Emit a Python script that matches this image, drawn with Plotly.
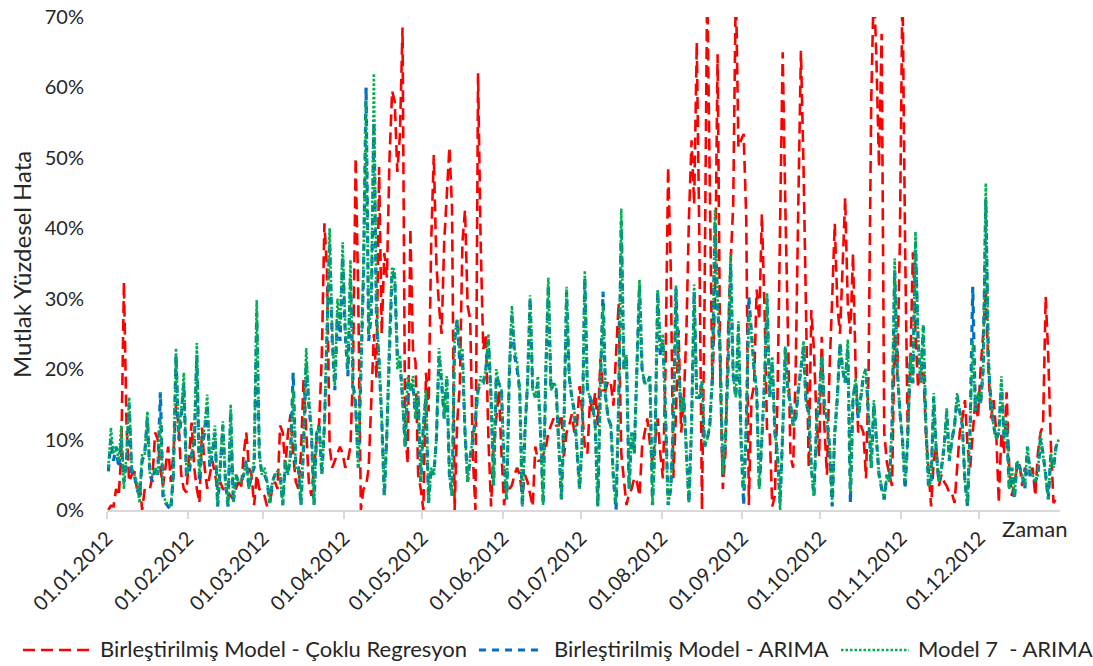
import pandas as pd
import plotly.graph_objects as go

# Daily absolute percentage errors (%), 2012-01-01 .. 2012-12-31, rows of 7 days
red_cr = [
    0, 0.6, 0.5, 3, 2, 8, 32.4,
    12, 4, 5, 5.5, 3, 4, 0,
    3, 3, 3, 5, 11, 10, 6,
    3.4, 6, 9, 4, 8, 15, 12,
    5, 3, 2.5, 8, 12.4, 6, 3,
    1, 11.7, 6, 3, 5, 7, 5,
    3, 4, 3, 3, 2.5, 2, 1.5,
    3, 4, 3, 8, 11, 6, 5,
    0.7, 5, 3, 2.5, 2, 0.5, 1,
    3, 4, 3, 12, 11, 6, 11,
    13.6, 8, 4, 3, 8, 18.7, 11,
    4, 2, 6, 10, 12.4, 22, 40.7,
    34, 9, 6, 7, 8, 9, 8,
    6, 7, 9, 20, 50, 30, 0,
    3, 3.4, 6, 16.4, 25, 18.7, 48.7,
    25, 36.5, 33, 50, 59.5, 58, 48,
    53.3, 68.5, 11, 6.6, 40, 22.8, 21,
    5, 3, 0, 19.5, 14, 38, 50.4,
    35, 29, 25, 38, 45, 51.5, 43,
    0, 12.6, 17.6, 38, 42.6, 29, 27,
    7.6, 0, 62, 38, 22.8, 25, 10,
    0.5, 9, 13, 17, 8, 0.7, 4,
    3, 3.5, 5, 6, 5, 2, 5,
    4, 2, 0.5, 9, 7, 7, 8,
    8.7, 11, 12, 13, 12, 12, 13.6,
    7.6, 11, 12, 13.6, 11, 12, 17.6,
    14, 9, 8, 15.6, 14, 16.7, 12,
    21.5, 17, 17, 18.4, 18, 14.8, 22,
    29.4, 8, 4, 0.7, 2.3, 3, 4.6,
    4, 2, 9, 11, 13, 9.4, 6.6,
    10, 13, 8, 4.5, 20, 48.7, 34.5,
    4.5, 13.7, 25.6, 11, 15.6, 25, 41.5,
    52.5, 43.4, 66.4, 38, 0, 30, 75,
    41.5, 17.6, 30, 64.7, 20, 3, 8,
    25, 35, 43.4, 75, 51.5, 52.5, 53.4,
    41.5, 0.7, 15.8, 17.6, 31.3, 27, 42,
    29, 11, 11, 0.5, 2, 15.8, 38,
    65, 43.4, 25, 7.6, 6, 20, 43.4,
    65.2, 48.7, 25, 6, 28.4, 22.8, 12.6,
    7.6, 24.6, 12, 5, 20, 30, 40.7,
    29, 25, 34.5, 44.3, 29, 25, 36.4,
    20, 11, 12, 11, 4.5, 20, 58,
    75, 64, 48.7, 67.6, 11, 6.8, 5,
    3.4, 25, 19, 38, 75, 38, 11,
    20, 36.6, 25, 17.4, 19, 20, 11,
    5, 0.5, 7, 9, 3.4, 5, 4,
    3.4, 2.4, 2.4, 1, 6, 11, 13,
    15.6, 9, 6, 11, 15.6, 13, 20,
    25, 31.3, 20, 13, 15.6, 11, 1,
    11, 8, 16.7, 6, 2, 4, 6,
    6.5, 3.4, 6, 4.8, 5, 6, 2,
    8, 11, 12, 30.3, 21.8, 9.3, 1,
    1.6, 2,
]

blue_arima = [
    5.5, 10, 7, 9, 6, 10, 4,
    7, 15, 5, 5, 3, 2, 7,
    8, 13, 5, 4, 6, 5, 16.7,
    2, 1, 0.5, 0, 5, 22, 10,
    13, 18, 5, 5, 8, 9, 22,
    4, 9, 11, 15, 6, 8, 11,
    0.5, 6, 12, 4, 0.5, 14, 1,
    5, 4, 4, 5, 7, 3, 5,
    6, 28, 8, 5, 5, 4, 1,
    4, 5, 5, 5, 0.7, 7, 5,
    8, 19.5, 6, 6, 0.7, 9, 21,
    15, 11, 0.7, 11, 12, 5, 12,
    24, 38, 24, 17, 28, 24, 36,
    25, 19, 33, 18, 15, 6, 20,
    33, 60, 24, 28, 55, 27, 21,
    13, 2, 11, 24, 34, 33, 22,
    21, 16, 9, 18, 17, 18, 13,
    16, 4, 12, 16, 1, 6, 5,
    10, 22, 18, 13, 19, 5, 2,
    24, 27, 21, 22, 11, 4, 7.6,
    10, 13, 17, 18, 18, 20, 24,
    16, 3.5, 19, 18, 17, 6, 1.5,
    19, 28, 22, 20, 17, 0.5, 11,
    18, 30, 17, 16, 18, 11, 0.7,
    19, 32, 17, 18, 17, 10, 1.5,
    12, 31, 19, 16, 14, 8, 3,
    10, 33, 17, 16, 15, 12, 0.5,
    18, 31, 16, 13, 12, 4.5, 0,
    15, 41, 20, 22, 3, 11, 8,
    20, 32, 20, 18, 18, 19, 0.7,
    10, 31, 22, 24, 14, 0.7, 3,
    12, 31.5, 20, 14, 16, 8, 1,
    12, 31, 16, 16, 18, 9, 10,
    12, 19, 41, 29, 22, 5, 10,
    20, 35, 19, 16, 26, 10, 0.7,
    12, 30.3, 25, 20, 17, 3, 10,
    18, 30, 16, 21, 11, 8, 1,
    11, 23, 17, 15, 12, 13, 17,
    20, 23, 15, 14, 6, 2, 12,
    16, 21.8, 15, 13, 9, 0.5, 11,
    16, 23.7, 20, 18, 23, 1, 16,
    18, 13, 16, 19, 20, 12, 6,
    15, 10, 5, 3, 1.5, 5, 4,
    12, 34, 20, 14, 10, 3, 10,
    22, 18, 38, 24, 18, 26, 12,
    3.4, 4, 16, 8, 4, 6, 9,
    14, 7, 10, 12, 16, 14, 12,
    4, 0.5, 12, 31.7, 14, 16, 15,
    20, 44, 21, 15, 12, 10, 11,
    18, 10, 12, 3, 6, 1.5, 7,
    6, 5, 3, 9, 5, 5, 4,
    5, 10, 8, 5, 1.5, 8, 6,
    9, 10,
]

green_m7 = [
    6, 11.7, 8, 9, 7, 12, 3,
    8, 16, 6, 5, 4, 1, 8,
    8, 14, 5, 5, 6, 5, 13,
    3, 1, 1, 0.5, 5, 23, 11,
    14, 19.5, 5, 6, 8, 10, 23.7,
    5, 9, 12, 16.4, 6.6, 9, 12,
    0.5, 6, 12.6, 4, 0.5, 15, 1,
    5, 4, 4, 5, 7, 3, 5,
    7, 29.8, 8, 5, 6, 4, 1,
    4, 5, 5.5, 5, 0.7, 7, 5,
    8, 17, 6, 6, 0.7, 10, 23,
    16, 11.6, 0.7, 11, 12, 5, 12,
    25, 40, 25, 17.6, 30, 26, 38,
    26, 20, 35.5, 17, 14.5, 6, 20,
    35, 58, 25, 30, 62, 29, 22,
    13, 2, 11, 25, 34.5, 34, 20,
    22, 16, 9, 19, 17, 19, 13,
    17, 4, 12, 17, 1, 6, 5,
    10, 23, 19, 13, 19, 5, 2,
    25, 27, 22, 23, 11, 4, 7.6,
    10, 13, 17, 19, 18, 20, 25,
    16, 3.5, 20, 18, 17, 6, 1.5,
    20, 29, 23, 21, 17, 0.5, 11,
    18, 30.5, 17, 16, 19, 11, 0.7,
    20, 33, 17, 18, 17.6, 10, 1.5,
    12, 31.7, 19, 16, 14, 8, 3,
    10, 34, 17, 16, 15, 12, 0.5,
    18, 29, 16, 13, 12, 4.5, 1,
    15, 42.8, 20, 22, 3, 11, 8,
    20, 32.7, 20, 18, 18, 19, 0.7,
    10, 31.3, 22.8, 25, 14, 0.7, 3,
    12, 32, 20, 14, 16, 8, 1,
    12, 32, 16, 16, 18.4, 9, 10,
    12, 19, 42.6, 30, 22, 5, 10,
    20, 36.5, 19, 16, 26.8, 10, 3,
    12, 28, 25, 20, 17, 3, 10,
    18, 30.8, 16, 21.8, 11, 8, 0,
    11, 23.2, 17, 15, 12, 13, 17,
    20, 24, 15, 14, 6, 2, 12,
    16, 21.8, 15, 13, 9, 1, 11,
    16, 23.7, 20, 18, 24.2, 2.5, 16,
    18.7, 13.6, 16, 19.1, 20, 12, 6,
    15.6, 10, 5, 3.4, 1.5, 5, 4,
    12, 35.7, 20, 14, 10, 4, 10,
    22, 18, 39.5, 24.5, 18, 26.3, 12,
    3.4, 4, 16.6, 8, 4, 6, 9,
    14.5, 7, 10, 12, 16.6, 14, 12,
    4, 1, 12, 24, 14, 16.7, 15,
    20, 46.4, 22, 15, 12, 10, 11,
    19, 10, 12.8, 3, 6, 2, 7,
    6, 5, 3.4, 9, 5.6, 5, 4,
    5, 11, 8, 5, 1.5, 8, 6,
    9, 10,
]

series_names = [
    "Birleştirilmiş Model - Çoklu Regresyon",
    "Birleştirilmiş Model - ARIMA",
    "Model 7  - ARIMA",
]
y_ticks = [0, 10, 20, 30, 40, 50, 60, 70]
y_tick_labels = ["0%", "10%", "20%", "30%", "40%", "50%", "60%", "70%"]

dates = pd.date_range("2012-01-01 12:00", periods=len(red_cr), freq="D")
month_ticks = pd.date_range("2012-01-01", "2012-12-01", freq="MS")

FONT = "Lato, 'Open Sans', sans-serif"
TXT = "#262626"

styles = [
    dict(color="#FF0000", width=2.6, dash="12px,6px"),
    dict(color="#0070C0", width=3.2, dash="7px,6px"),
    dict(color="#00B050", width=2.6, dash="2.5px,2px"),
]

fig = go.Figure()
for name, vals, st in zip(series_names, [red_cr, blue_arima, green_m7], styles):
    fig.add_trace(go.Scatter(x=dates[:len(vals)], y=vals, mode="lines", name=name,
                             line=st, showlegend=False, hoverinfo="skip"))

L, R, T, B = 107, 33, 17, 156
W, H = 1093, 666
pw, ph = W - L - R, H - T - B

def px(x):
    return (x - L) / pw

def py(y):
    return (H - B - y) / ph

fig.update_layout(
    width=W, height=H,
    margin=dict(l=L, r=R, t=T, b=B, pad=0, autoexpand=False),
    paper_bgcolor="white", plot_bgcolor="white",
    font=dict(family=FONT, size=20, color=TXT),
    showlegend=False,
    xaxis=dict(
        type="date",
        range=["2012-01-01", "2013-01-01"],
        tickvals=list(month_ticks),
        tickformat="%d.%m.%Y",
        tickangle=-45,
        ticks="outside", ticklen=7, tickwidth=1.5, tickcolor="#d9d9d9",
        showline=True, linecolor="#d9d9d9", linewidth=1.5,
        showgrid=False, zeroline=False, automargin=False,
        tickfont=dict(family=FONT, size=20, color=TXT),
    ),
    yaxis=dict(
        range=[0, 70],
        tickmode="array",
        tickvals=y_ticks,
        ticktext=y_tick_labels,
        ticks="",
        showline=False, showgrid=False, zeroline=False, automargin=False,
        tickfont=dict(family=FONT, size=20, color=TXT),
        ticklabelstandoff=22,
    ),
)

annotations = [
    dict(text="Mutlak Yüzdesel Hata", textangle=-90, x=px(21), y=py(265),
         xref="paper", yref="paper", showarrow=False, xanchor="center", yanchor="middle",
         font=dict(family=FONT, size=24, color=TXT)),
    dict(text="Zaman", x=px(1000), y=py(528), xref="paper", yref="paper",
         showarrow=False, xanchor="left", yanchor="middle",
         font=dict(family=FONT, size=22, color=TXT)),
]

# manual legend (samples + labels) at the bottom
leg_y = 650
leg_items = [(23, 91, 98), (479, 543, 552), (841, 909, 916)]
shapes = []
for (x0, x1, xt), name, st in zip(leg_items, series_names, styles):
    shapes.append(dict(type="line", xref="paper", yref="paper",
                       x0=px(x0), x1=px(x1), y0=py(leg_y), y1=py(leg_y),
                       line=st))
    annotations.append(dict(text=name, x=px(xt), y=py(leg_y - 1), xref="paper", yref="paper",
                            showarrow=False, xanchor="left", yanchor="middle",
                            font=dict(family=FONT, size=22, color=TXT)))

fig.update_layout(annotations=annotations, shapes=shapes)
fig.write_html("out.html")
